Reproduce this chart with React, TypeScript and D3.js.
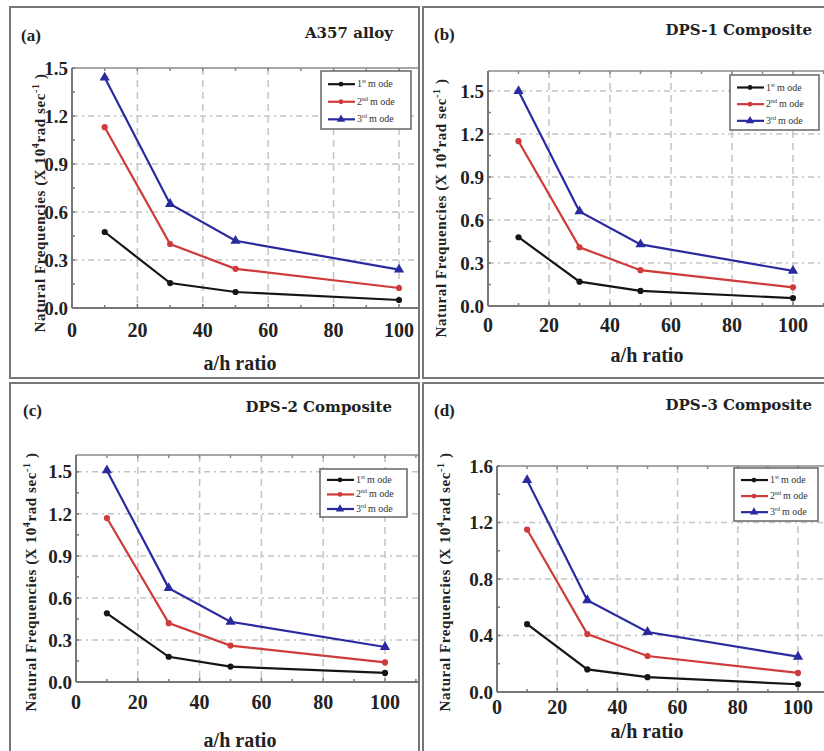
import React, { useEffect, useRef } from "react";
import * as d3 from "d3";

// a/h ratio values (x) and mode names
const ratios = [10, 30, 50, 100];
const modeNums = ["1", "2", "3"];
const modeSups = ["st", "nd", "rd"];
const modeColors = ["#151515", "#cf3a3a", "#2a2aa0"];

const panelTags = ["(a)", "(b)", "(c)", "(d)"];
const panelTitles = ["A357 alloy", "DPS-1 Composite", "DPS-2 Composite", "DPS-3 Composite"];

// natural frequencies (x10^4 rad/s), [mode1, mode2, mode3]
const a357 = [
  [0.475, 0.156, 0.1, 0.05],
  [1.13, 0.4, 0.245, 0.125],
  [1.44, 0.65, 0.42, 0.24],
];
const dps1 = [
  [0.48, 0.17, 0.105, 0.055],
  [1.15, 0.41, 0.25, 0.13],
  [1.5, 0.66, 0.43, 0.245],
];
const dps2 = [
  [0.49, 0.18, 0.11, 0.065],
  [1.17, 0.42, 0.26, 0.14],
  [1.51, 0.67, 0.43, 0.25],
];
const dps3 = [
  [0.48, 0.16, 0.105, 0.055],
  [1.15, 0.41, 0.255, 0.135],
  [1.5, 0.65, 0.425, 0.25],
];

const xTicks = [0, 20, 40, 60, 80, 100];
const yTicks3 = [0, 0.3, 0.6, 0.9, 1.2, 1.5];
const yTicks4 = [0, 0.4, 0.8, 1.2, 1.6];
const yMaxes = [1.5, 1.64, 1.62, 1.6];

const panelData = [a357, dps1, dps2, dps3];
const panelYTicks = [yTicks3, yTicks3, yTicks3, yTicks4];

// pixel layout of each panel
const layout = [
  { box: [10, 7, 409, 371], left: 72, x100: 399, top: 68, bottom: 308, tag: [21, 41], title: [393, 38], ylab: [45, 203], xlab: [240, 370], xtickY: 337, legend: [321, 71, 90, 58] },
  { box: [423, 7, 410, 371], left: 488, x100: 793, top: 71, bottom: 306, tag: [434, 40], title: [812, 35], ylab: [446, 208], xlab: [647, 362], xtickY: 332, legend: [730, 75, 89, 55] },
  { box: [10, 383, 409, 380], left: 76, x100: 385, top: 455, bottom: 682, tag: [23, 416], title: [392, 412], ylab: [36, 582], xlab: [240, 747], xtickY: 709, legend: [320, 469, 87, 48] },
  { box: [423, 383, 410, 380], left: 497, x100: 798, top: 466, bottom: 692, tag: [434, 416], title: [812, 410], ylab: [450, 582], xlab: [647, 738], xtickY: 714, legend: [734, 468, 84, 53] },
];

const serif = "Liberation Serif";

const App = () => {
  const svgRef = useRef<SVGSVGElement>(null);

  useEffect(() => {
    document.body.style.margin = "0";
    const svg = d3.select(svgRef.current);
    svg.selectAll("*").remove();
    svg.attr("width", 824).attr("height", 751);

    svg.append("rect").attr("width", 824).attr("height", 751).attr("fill", "#fff");

    panelData.forEach((series, pi) => {
      const L = layout[pi];
      const [bx, by, bw, bh] = L.box;

      const clipId = `clip-${pi}`;
      svg
        .append("clipPath")
        .attr("id", clipId)
        .append("rect")
        .attr("x", bx)
        .attr("y", by)
        .attr("width", bw)
        .attr("height", bh);

      const g = svg.append("g").attr("clip-path", `url(#${clipId})`);

      const x = d3.scaleLinear().domain([0, 100]).range([L.left, L.x100]);
      const y = d3.scaleLinear().domain([0, yMaxes[pi]]).range([L.bottom, L.top]);
      const plotRight = bx + bw + 20;

      // grid
      xTicks
        .filter((t) => t > 0)
        .forEach((t) => {
          g.append("line")
            .attr("x1", x(t))
            .attr("x2", x(t))
            .attr("y1", L.top)
            .attr("y2", L.bottom)
            .attr("stroke", "#c4c4c4")
            .attr("stroke-width", 1.5)
            .attr("stroke-dasharray", "7,5");
        });
      panelYTicks[pi]
        .filter((t) => t > 0 && y(t) > L.top + 2)
        .forEach((t) => {
          g.append("line")
            .attr("x1", L.left)
            .attr("x2", plotRight)
            .attr("y1", y(t))
            .attr("y2", y(t))
            .attr("stroke", "#c4c4c4")
            .attr("stroke-width", 1.5)
            .attr("stroke-dasharray", "6,4,2,4");
        });

      // frame: top line, left and bottom axes
      g.append("line")
        .attr("x1", L.left)
        .attr("x2", plotRight)
        .attr("y1", L.top)
        .attr("y2", L.top)
        .attr("stroke", "#8a8a8a")
        .attr("stroke-width", 1.5);
      g.append("line")
        .attr("x1", L.left)
        .attr("x2", L.left)
        .attr("y1", L.top)
        .attr("y2", L.bottom)
        .attr("stroke", "#777")
        .attr("stroke-width", 2);
      g.append("line")
        .attr("x1", L.left)
        .attr("x2", plotRight)
        .attr("y1", L.bottom)
        .attr("y2", L.bottom)
        .attr("stroke", "#777")
        .attr("stroke-width", 2);

      // small ticks every 10 on top and bottom
      d3.range(10, 111, 10).forEach((t) => {
        const major = t % 20 === 0;
        g.append("line")
          .attr("x1", x(t))
          .attr("x2", x(t))
          .attr("y1", L.bottom)
          .attr("y2", L.bottom - (major ? 4 : 3))
          .attr("stroke", "#777")
          .attr("stroke-width", 1.5);
        g.append("line")
          .attr("x1", x(t))
          .attr("x2", x(t))
          .attr("y1", L.top)
          .attr("y2", L.top + 3)
          .attr("stroke", "#888")
          .attr("stroke-width", 1.5);
      });
      const yt = panelYTicks[pi];
      const step = yt[1] - yt[0];
      d3.range(0, yMaxes[pi] + 1e-6, step / 2).forEach((t) => {
        g.append("line")
          .attr("x1", L.left)
          .attr("x2", L.left + 3)
          .attr("y1", y(t))
          .attr("y2", y(t))
          .attr("stroke", "#777")
          .attr("stroke-width", 1.5);
      });

      // tick labels
      g.selectAll(".xt")
        .data(xTicks)
        .join("text")
        .attr("x", (d) => x(d))
        .attr("y", L.xtickY)
        .attr("text-anchor", "middle")
        .style("font-family", serif)
        .style("font-weight", "bold")
        .style("font-size", "20px")
        .attr("fill", "#222")
        .text((d) => d);
      g.selectAll(".yt")
        .data(yt)
        .join("text")
        .attr("x", L.left - 4)
        .attr("y", (d) => y(d))
        .attr("dy", "0.35em")
        .attr("text-anchor", "end")
        .style("font-family", serif)
        .style("font-weight", "bold")
        .style("font-size", "19px")
        .attr("fill", "#222")
        .text((d) => d.toFixed(1));

      // series lines and markers
      const line = d3
        .line<number>()
        .x((_, i) => x(ratios[i]))
        .y((d) => y(d));

      series.forEach((vals, si) => {
        g.append("path")
          .datum(vals)
          .attr("fill", "none")
          .attr("stroke", modeColors[si])
          .attr("stroke-width", 2.2)
          .attr("d", line);
        const sym = d3
          .symbol()
          .type(si === 2 ? d3.symbolTriangle : d3.symbolCircle)
          .size(si === 2 ? 45 : 30);
        g.selectAll(`.m${si}`)
          .data(vals)
          .join("path")
          .attr("transform", (d, i) => `translate(${x(ratios[i])},${y(d)})`)
          .attr("d", sym)
          .attr("fill", modeColors[si]);
      });

      // legend
      const [lx, ly, lw, lh] = L.legend;
      g.append("rect")
        .attr("x", lx)
        .attr("y", ly)
        .attr("width", lw)
        .attr("height", lh)
        .attr("fill", "#fff")
        .attr("stroke", "#666")
        .attr("stroke-width", 1.5);
      const rowH = lh / 3.3;
      modeNums.forEach((n, si) => {
        const ry = ly + rowH * (si + 0.75);
        g.append("line")
          .attr("x1", lx + 7)
          .attr("x2", lx + 34)
          .attr("y1", ry)
          .attr("y2", ry)
          .attr("stroke", modeColors[si])
          .attr("stroke-width", 2.2);
        g.append("path")
          .attr("transform", `translate(${lx + 20},${ry})`)
          .attr(
            "d",
            d3
              .symbol()
              .type(si === 2 ? d3.symbolTriangle : d3.symbolCircle)
              .size(si === 2 ? 30 : 18)
          )
          .attr("fill", modeColors[si]);
        const t = g
          .append("text")
          .attr("x", lx + 36)
          .attr("y", ry + 3)
          .style("font-family", serif)
          .style("font-size", "10px")
          .attr("fill", "#333");
        t.append("tspan").text(n);
        t.append("tspan").style("font-size", "6px").attr("dy", -4).text(modeSups[si]);
        t.append("tspan").attr("dy", 4).attr("dx", 2).text("m ode");
      });

      // panel texts
      g.append("text")
        .attr("x", L.tag[0])
        .attr("y", L.tag[1])
        .style("font-family", serif)
        .style("font-weight", "bold")
        .style("font-size", "17px")
        .attr("fill", "#222")
        .text(panelTags[pi]);
      g.append("text")
        .attr("x", L.title[0])
        .attr("y", L.title[1])
        .attr("text-anchor", "end")
        .style("font-family", "DejaVu Serif")
        .style("font-weight", "bold")
        .style("font-size", "15px")
        .attr("fill", "#222")
        .text(panelTitles[pi]);
      g.append("text")
        .attr("x", L.xlab[0])
        .attr("y", L.xlab[1])
        .attr("text-anchor", "middle")
        .style("font-family", serif)
        .style("font-weight", "bold")
        .style("font-size", "20px")
        .attr("fill", "#222")
        .text("a/h ratio");
      const yl = g
        .append("text")
        .attr("transform", `translate(${L.ylab[0]},${L.ylab[1]}) rotate(-90)`)
        .attr("text-anchor", "middle")
        .style("font-family", serif)
        .style("font-weight", "bold")
        .style("font-size", "15px")
        .style("letter-spacing", "0.6px")
        .attr("fill", "#222");
      yl.append("tspan").text("Natural Frequencies (X 10");
      yl.append("tspan").style("font-size", "10px").attr("dy", -6).text("4");
      yl.append("tspan").attr("dy", 6).text("rad sec");
      yl.append("tspan").style("font-size", "10px").attr("dy", -6).text("-1");
      yl.append("tspan").attr("dy", 6).text(" )");

      // panel border
      svg
        .append("rect")
        .attr("x", bx)
        .attr("y", by)
        .attr("width", bw)
        .attr("height", bh)
        .attr("fill", "none")
        .attr("stroke", "#777")
        .attr("stroke-width", 2);
    });
  }, []);

  return (
    <div>
      <svg ref={svgRef} />
    </div>
  );
};

export default App;
